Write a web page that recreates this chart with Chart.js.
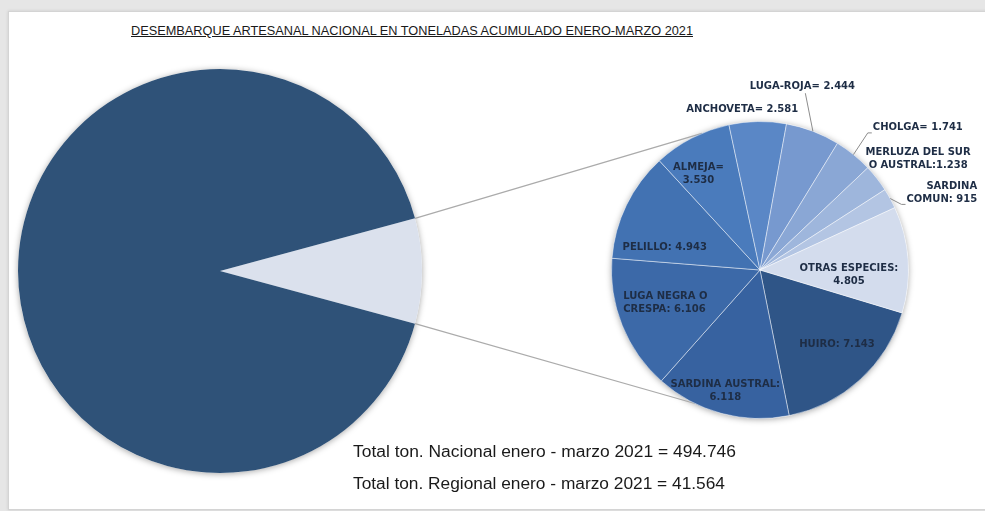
<!DOCTYPE html>
<html>
<head>
<meta charset="utf-8">
<script src="https://cdn.jsdelivr.net/npm/chart.js@4.4.1/dist/chart.umd.min.js"></script>
<style>
  html, body { margin: 0; padding: 0; width: 985px; height: 511px; overflow: hidden; background: #e6e6e6; }
  #card { position: absolute; left: 8px; top: 11px; width: 990px; height: 497px; background: #fff;
          border: 1px solid #d4d4d4; box-shadow: 0 0 3px rgba(0,0,0,0.12); }
  canvas { position: absolute; left: 0; top: 0; }
  #title { position: absolute; left: 131px; top: 23px; font: 13px "Liberation Sans Narrow", "Liberation Sans", sans-serif;
           color: #1a1a1a; text-decoration: underline; white-space: nowrap; transform-origin: 0 0; }
  .total { position: absolute; left: 353px; font: 16px "Liberation Sans", Arial, sans-serif; color: #1a1a1a;
           white-space: nowrap; transform-origin: 0 0; }
</style>
</head>
<body>
<div id="card"></div>
<div id="title">DESEMBARQUE ARTESANAL NACIONAL EN TONELADAS ACUMULADO ENERO-MARZO 2021</div>
<canvas id="main" width="985" height="511"></canvas>
<canvas id="detail" width="985" height="511"></canvas>
<div class="total" id="totNac" style="top:443px"></div>
<div class="total" id="totReg" style="top:475px"></div>

<script>
// totals (toneladas)
const nacionalTotal = 494746;
const regionalTotal = 41564;

// regional breakdown by species, clockwise from HUIRO
const especies = ['HUIRO', 'SARDINA AUSTRAL', 'LUGA NEGRA O CRESPA', 'PELILLO', 'ALMEJA', 'ANCHOVETA',
                  'LUGA-ROJA', 'CHOLGA', 'MERLUZA DEL SUR O AUSTRAL', 'SARDINA COMUN', 'OTRAS ESPECIES'];
const toneladas = [7143, 6118, 6106, 4943, 3530, 2581, 2444, 1741, 1238, 915, 4805];
const etiquetas = [
  ['HUIRO: 7.143'],
  ['SARDINA AUSTRAL:', '6.118'],
  ['LUGA NEGRA O', 'CRESPA: 6.106'],
  ['PELILLO: 4.943'],
  ['ALMEJA=', '3.530'],
  ['ANCHOVETA= 2.581'],
  ['LUGA-ROJA= 2.444'],
  ['CHOLGA= 1.741'],
  ['MERLUZA DEL SUR', 'O AUSTRAL:1.238'],
  ['SARDINA', 'COMUN: 915'],
  ['OTRAS ESPECIES:', '4.805']
];

const coloresEspecies = ['#2f5587', '#3762a0', '#3c69a8', '#4272b2', '#4a7bbc', '#5a87c6',
                         '#7799cf', '#8aa7d5', '#9eb6dc', '#b3c5e3', '#d3dced'];

// label placement: radius fraction, angle offset from slice middle (deg)
const labelPlace = [
  { r: 0.72, da: -3.8 },
  { r: 0.85, da: 0.8 },
  { r: 0.675, da: 2.7, align: 'left' },
  { r: 0.66, da: -12.4, align: 'left' },
  { r: 0.77, da: -5.2 },
  { r: 1.09, da: -5.4 },
  { r: 1.27, da: -7.9, leader: 'below' },
  { r: 1.43, da: 9, leader: 'left' },
  { r: 1.3, da: 3.1 },
  { r: 1.33, da: 5.8, align: 'right', leader: 'left' },
  { r: 0.6, da: 7.2 }
];

function miles(n) {
  return String(n).replace(/\B(?=(\d{3})+(?!\d))/g, '.');
}

document.getElementById('totNac').textContent = 'Total ton. Nacional enero - marzo 2021 = ' + miles(nacionalTotal);
document.getElementById('totReg').textContent = 'Total ton. Regional enero - marzo 2021 = ' + miles(regionalTotal);

// stretch texts to the widths they have in the original
function fitWidth(el, w) {
  const cur = el.getBoundingClientRect().width;
  el.style.transform = 'scaleX(' + (w / cur) + ')';
}
fitWidth(document.getElementById('title'), 562);
fitWidth(document.getElementById('totNac'), 383);
fitWidth(document.getElementById('totReg'), 372);

const rad = d => d * Math.PI / 180;

// soft drop shadow behind a pie
const pieShadow = {
  id: 'pieShadow',
  beforeDatasetsDraw(chart) {
    const arc = chart.getDatasetMeta(0).data[0];
    if (!arc) return;
    const ctx = chart.ctx;
    ctx.save();
    ctx.shadowColor = 'rgba(0,0,0,0.35)';
    ctx.shadowBlur = 6;
    ctx.shadowOffsetY = 1;
    ctx.fillStyle = '#fff';
    ctx.beginPath();
    ctx.arc(arc.x, arc.y, arc.outerRadius, 0, Math.PI * 2);
    ctx.fill();
    ctx.restore();
  }
};

const mainChart = new Chart(document.getElementById('main'), {
  type: 'pie',
  data: {
    labels: ['Regional', 'Resto nacional'],
    datasets: [{
      data: [regionalTotal, nacionalTotal - regionalTotal],
      backgroundColor: ['#dbe1ed', '#2f5278'],
      borderWidth: 0
    }]
  },
  options: {
    responsive: false,
    animation: false,
    devicePixelRatio: 1,
    rotation: 90 - (regionalTotal / nacionalTotal * 360) / 2,
    layout: { padding: { left: 18, right: 563, top: 69, bottom: 38 } },
    plugins: { legend: { display: false }, tooltip: { enabled: false } }
  },
  plugins: [pieShadow]
});

// connector lines from the regional slice to the detail pie
const connectors = {
  id: 'connectors',
  beforeDatasetsDraw(chart) {
    const big = mainChart.getDatasetMeta(0).data[0];
    const small = chart.getDatasetMeta(0).data[0];
    const ctx = chart.ctx;
    const ends = [
      [big.startAngle, rad(247)],
      [big.endAngle, rad(116)]
    ];
    ctx.save();
    ctx.strokeStyle = '#ababab';
    ctx.lineWidth = 1.2;
    ends.forEach(([a, b]) => {
      ctx.beginPath();
      ctx.moveTo(big.x + Math.cos(a) * big.outerRadius, big.y + Math.sin(a) * big.outerRadius);
      ctx.lineTo(small.x + Math.cos(b) * small.outerRadius, small.y + Math.sin(b) * small.outerRadius);
      ctx.stroke();
    });
    ctx.restore();
  }
};

const sliceLabels = {
  id: 'sliceLabels',
  afterDatasetsDraw(chart) {
    const ctx = chart.ctx;
    const lh = 13;
    ctx.save();
    ctx.font = 'bold 10px "DejaVu Sans", sans-serif';
    ctx.textBaseline = 'middle';
    chart.getDatasetMeta(0).data.forEach((arc, i) => {
      const p = labelPlace[i];
      const lines = etiquetas[i];
      const R = arc.outerRadius;
      const mid = (arc.startAngle + arc.endAngle) / 2;
      const a = mid + rad(p.da);
      const cx = arc.x + Math.cos(a) * R * p.r;
      const cy = arc.y + Math.sin(a) * R * p.r;
      const widths = lines.map(t => ctx.measureText(t).width);
      const bw = Math.max(...widths);
      const top = cy - (lines.length - 1) * lh / 2;
      const align = p.align || 'center';
      ctx.fillStyle = '#1e2d45';
      ctx.textAlign = align;
      const x = align === 'left' ? cx - bw / 2 : align === 'right' ? cx + bw / 2 : cx;
      lines.forEach((t, k) => ctx.fillText(t, x, top + k * lh));

      if (p.leader) {
        const ex = arc.x + Math.cos(mid) * R;
        const ey = arc.y + Math.sin(mid) * R;
        ctx.strokeStyle = '#8c8c8c';
        ctx.lineWidth = 1;
        ctx.beginPath();
        ctx.moveTo(ex, ey);
        if (p.leader === 'below') {
          ctx.lineTo(cx + 3, top + (lines.length - 1) * lh + 7);
        } else {
          const last = lines.length - 1;
          const lw = widths[last];
          const left = align === 'right' ? x - lw : align === 'left' ? x : x - lw / 2;
          const ly = top + last * lh + 5;
          ctx.lineTo(left - 5, ly);
          ctx.lineTo(left - 1, ly);
        }
        ctx.stroke();
      }
    });
    ctx.restore();
  }
};

new Chart(document.getElementById('detail'), {
  type: 'pie',
  data: {
    labels: especies,
    datasets: [{
      data: toneladas,
      backgroundColor: coloresEspecies,
      borderColor: 'rgba(255,255,255,0.45)',
      borderWidth: 1
    }]
  },
  options: {
    responsive: false,
    animation: false,
    devicePixelRatio: 1,
    rotation: 106.8,
    layout: { padding: { left: 611, right: 76, top: 121, bottom: 92 } },
    plugins: { legend: { display: false }, tooltip: { enabled: false } }
  },
  plugins: [pieShadow, connectors, sliceLabels]
});
</script>
</body>
</html>
